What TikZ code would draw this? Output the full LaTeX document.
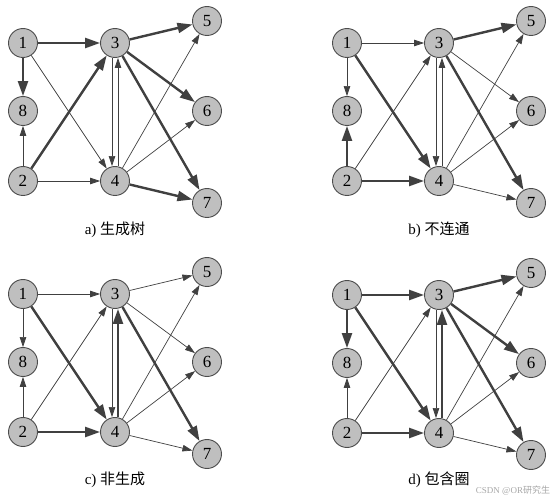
\documentclass[tikz,border=0pt]{standalone}
\usepackage{fontspec}
\setmainfont{Liberation Serif}
\newfontfamily\cjk{Noto Sans CJK SC}
\usetikzlibrary{arrows.meta}

\begin{document}
\begin{tikzpicture}
[x=1pt,y=-1pt,
vertex/.style={circle,draw=black!70,fill=black!25,line width=0.9pt,inner sep=0pt,minimum size=29pt,font=\fontsize{17}{17}\selectfont},
light/.style={draw=black!75,line width=0.7pt,-{Triangle[length=10pt,width=6.5pt]}},
heavy/.style={draw=black!75,line width=2.4pt,-{Triangle[length=15pt,width=10pt]}},
caption/.style={font=\fontsize{15}{15}\selectfont}]
\useasboundingbox (0,0) rectangle (558,500);

% a) spanning tree
\begin{scope}[shift={(0,0)},name prefix=a-]
\node[vertex] (1) at (23,43) {1};
\node[vertex] (3) at (115,43) {3};
\node[vertex] (5) at (207,21) {5};
\node[vertex] (8) at (23,111) {8};
\node[vertex] (6) at (207,111) {6};
\node[vertex] (2) at (23,181) {2};
\node[vertex] (4) at (115,181) {4};
\node[vertex] (7) at (207,203) {7};
\node[caption] (t) at (115,230) {a) {\cjk 生成树}};

\draw [heavy] (1) -- (3);
\draw [heavy] (1) -- (8);
\draw [light] (1) -- (4);
\draw [light] (2) -- (8);
\draw [heavy] (2) -- (3);
\draw [light] (2) -- (4);
\draw [heavy] (3) -- (5);
\draw [heavy] (3) -- (6);
\draw [heavy] (3) -- (7);
\draw [light,transform canvas={xshift=-3pt}] (3) -- (4);
\draw [light,transform canvas={xshift=3pt}] (4) -- (3);
\draw [light] (4) -- (5);
\draw [light] (4) -- (6);
\draw [heavy] (4) -- (7);
\end{scope}

% b) not connected
\begin{scope}[shift={(324,0)},name prefix=b-]
\node[vertex] (1) at (23,43) {1};
\node[vertex] (3) at (115,43) {3};
\node[vertex] (5) at (207,21) {5};
\node[vertex] (8) at (23,111) {8};
\node[vertex] (6) at (207,111) {6};
\node[vertex] (2) at (23,181) {2};
\node[vertex] (4) at (115,181) {4};
\node[vertex] (7) at (207,203) {7};
\node[caption] (t) at (115,230) {b) {\cjk 不连通}};

\draw [light] (1) -- (3);
\draw [light] (1) -- (8);
\draw [heavy] (1) -- (4);
\draw [heavy] (2) -- (8);
\draw [light] (2) -- (3);
\draw [heavy] (2) -- (4);
\draw [heavy] (3) -- (5);
\draw [light] (3) -- (6);
\draw [heavy] (3) -- (7);
\draw [light,transform canvas={xshift=-3pt}] (3) -- (4);
\draw [light,transform canvas={xshift=3pt}] (4) -- (3);
\draw [light] (4) -- (5);
\draw [light] (4) -- (6);
\draw [light] (4) -- (7);
\end{scope}

% c) not spanning
\begin{scope}[shift={(0,251)},name prefix=c-]
\node[vertex] (1) at (23,43) {1};
\node[vertex] (3) at (115,43) {3};
\node[vertex] (5) at (207,21) {5};
\node[vertex] (8) at (23,111) {8};
\node[vertex] (6) at (207,111) {6};
\node[vertex] (2) at (23,181) {2};
\node[vertex] (4) at (115,181) {4};
\node[vertex] (7) at (207,203) {7};
\node[caption] (t) at (115,229) {c) {\cjk 非生成}};

\draw [light] (1) -- (3);
\draw [light] (1) -- (8);
\draw [heavy] (1) -- (4);
\draw [light] (2) -- (8);
\draw [light] (2) -- (3);
\draw [heavy] (2) -- (4);
\draw [light] (3) -- (5);
\draw [light] (3) -- (6);
\draw [heavy] (3) -- (7);
\draw [light,transform canvas={xshift=-3pt}] (3) -- (4);
\draw [heavy,transform canvas={xshift=3pt}] (4) -- (3);
\draw [light] (4) -- (5);
\draw [light] (4) -- (6);
\draw [light] (4) -- (7);
\end{scope}

% d) contains a cycle
\begin{scope}[shift={(324,252)},name prefix=d-]
\node[vertex] (1) at (23,43) {1};
\node[vertex] (3) at (115,43) {3};
\node[vertex] (5) at (207,21) {5};
\node[vertex] (8) at (23,111) {8};
\node[vertex] (6) at (207,111) {6};
\node[vertex] (2) at (23,181) {2};
\node[vertex] (4) at (115,181) {4};
\node[vertex] (7) at (207,203) {7};
\node[caption] (t) at (115,228) {d) {\cjk 包含圈}};

\draw [heavy] (1) -- (3);
\draw [heavy] (1) -- (8);
\draw [heavy] (1) -- (4);
\draw [light] (2) -- (8);
\draw [light] (2) -- (3);
\draw [heavy] (2) -- (4);
\draw [heavy] (3) -- (5);
\draw [heavy] (3) -- (6);
\draw [heavy] (3) -- (7);
\draw [light,transform canvas={xshift=-3pt}] (3) -- (4);
\draw [heavy,transform canvas={xshift=3pt}] (4) -- (3);
\draw [light] (4) -- (5);
\draw [light] (4) -- (6);
\draw [light] (4) -- (7);
\end{scope}

\node[font=\fontsize{9}{9}\selectfont,text=black!35] (mark) at (513,491) {CSDN @OR{\cjk 研究生}};
\end{tikzpicture}
\end{document}
